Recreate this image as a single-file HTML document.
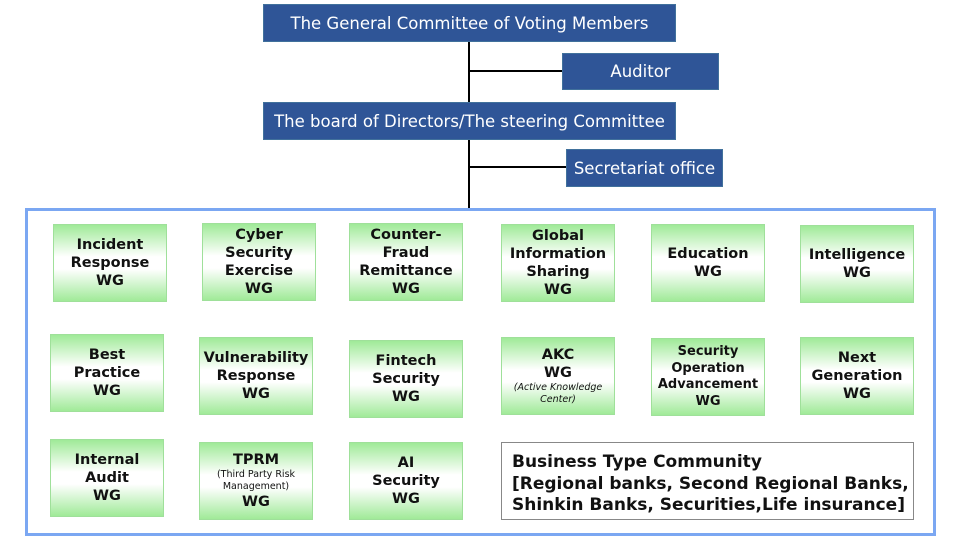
<!DOCTYPE html>
<html><head><meta charset="utf-8"><style>
*{margin:0;padding:0;box-sizing:border-box}
body{width:960px;height:540px;background:#fff;position:relative;overflow:hidden;font-family:"DejaVu Sans","Liberation Sans",sans-serif}
.top{position:absolute;background:#2f5597;color:#fff;font-size:16.5px;display:flex;align-items:center;justify-content:center;border:1px solid #41719c}
.ln{position:absolute;background:#000}
.outer{position:absolute;left:25px;top:208px;width:911px;height:328px;border:3px solid #7ba7f2}
.wg{position:absolute;width:114px;height:78px;border:1px solid #9fe09a;background:linear-gradient(#a0ea98 0%,#fff 42%,#fff 58%,#a0ea98 100%);display:flex;flex-direction:column;align-items:center;justify-content:center;text-align:center;font-weight:bold;font-size:14.5px;line-height:18px;color:#111}
.wg small{font-weight:normal;font-size:9.5px;line-height:12px}
.biz{position:absolute;left:501px;top:442px;width:413px;height:78px;border:1px solid #888;font-weight:bold;font-size:17px;line-height:21.5px;padding:9px 0 0 10px;color:#111;white-space:nowrap}
</style></head><body>
<div class="ln" style="left:468px;top:41px;width:2px;height:168px"></div>
<div class="ln" style="left:469px;top:70px;width:94px;height:2px"></div>
<div class="ln" style="left:469px;top:166px;width:98px;height:2px"></div>
<div class="top" style="left:263px;top:4px;width:413px;height:38px">The General Committee of Voting Members</div>
<div class="top" style="left:562px;top:53px;width:157px;height:37px">Auditor</div>
<div class="top" style="left:263px;top:102px;width:413px;height:38px">The board of Directors/The steering Committee</div>
<div class="top" style="left:566px;top:149px;width:157px;height:38px">Secretariat office</div>
<div class="outer"></div>
<div class="wg" style="left:53px;top:224px">Incident<br>Response<br>WG</div>
<div class="wg" style="left:202px;top:223px">Cyber<br>Security<br>Exercise<br>WG</div>
<div class="wg" style="left:349px;top:223px">Counter-<br>Fraud<br>Remittance<br>WG</div>
<div class="wg" style="left:501px;top:224px">Global<br>Information<br>Sharing<br>WG</div>
<div class="wg" style="left:651px;top:224px">Education<br>WG</div>
<div class="wg" style="left:800px;top:225px">Intelligence<br>WG</div>
<div class="wg" style="left:50px;top:334px">Best<br>Practice<br>WG</div>
<div class="wg" style="left:199px;top:337px">Vulnerability<br>Response<br>WG</div>
<div class="wg" style="left:349px;top:340px">Fintech<br>Security<br>WG</div>
<div class="wg" style="left:501px;top:337px">AKC<br>WG<small><i>(Active Knowledge<br>Center)</i></small></div>
<div class="wg" style="left:651px;top:338px;font-size:13px;line-height:16.5px">Security<br>Operation<br>Advancement<br>WG</div>
<div class="wg" style="left:800px;top:337px">Next<br>Generation<br>WG</div>
<div class="wg" style="left:50px;top:439px">Internal<br>Audit<br>WG</div>
<div class="wg" style="left:199px;top:442px">TPRM<small>(Third Party Risk<br>Management)</small>WG</div>
<div class="wg" style="left:349px;top:442px">AI<br>Security<br>WG</div>
<div class="biz">Business Type Community<br>[Regional banks, Second Regional Banks,<br>Shinkin Banks, Securities,Life insurance]</div>
</body></html>
